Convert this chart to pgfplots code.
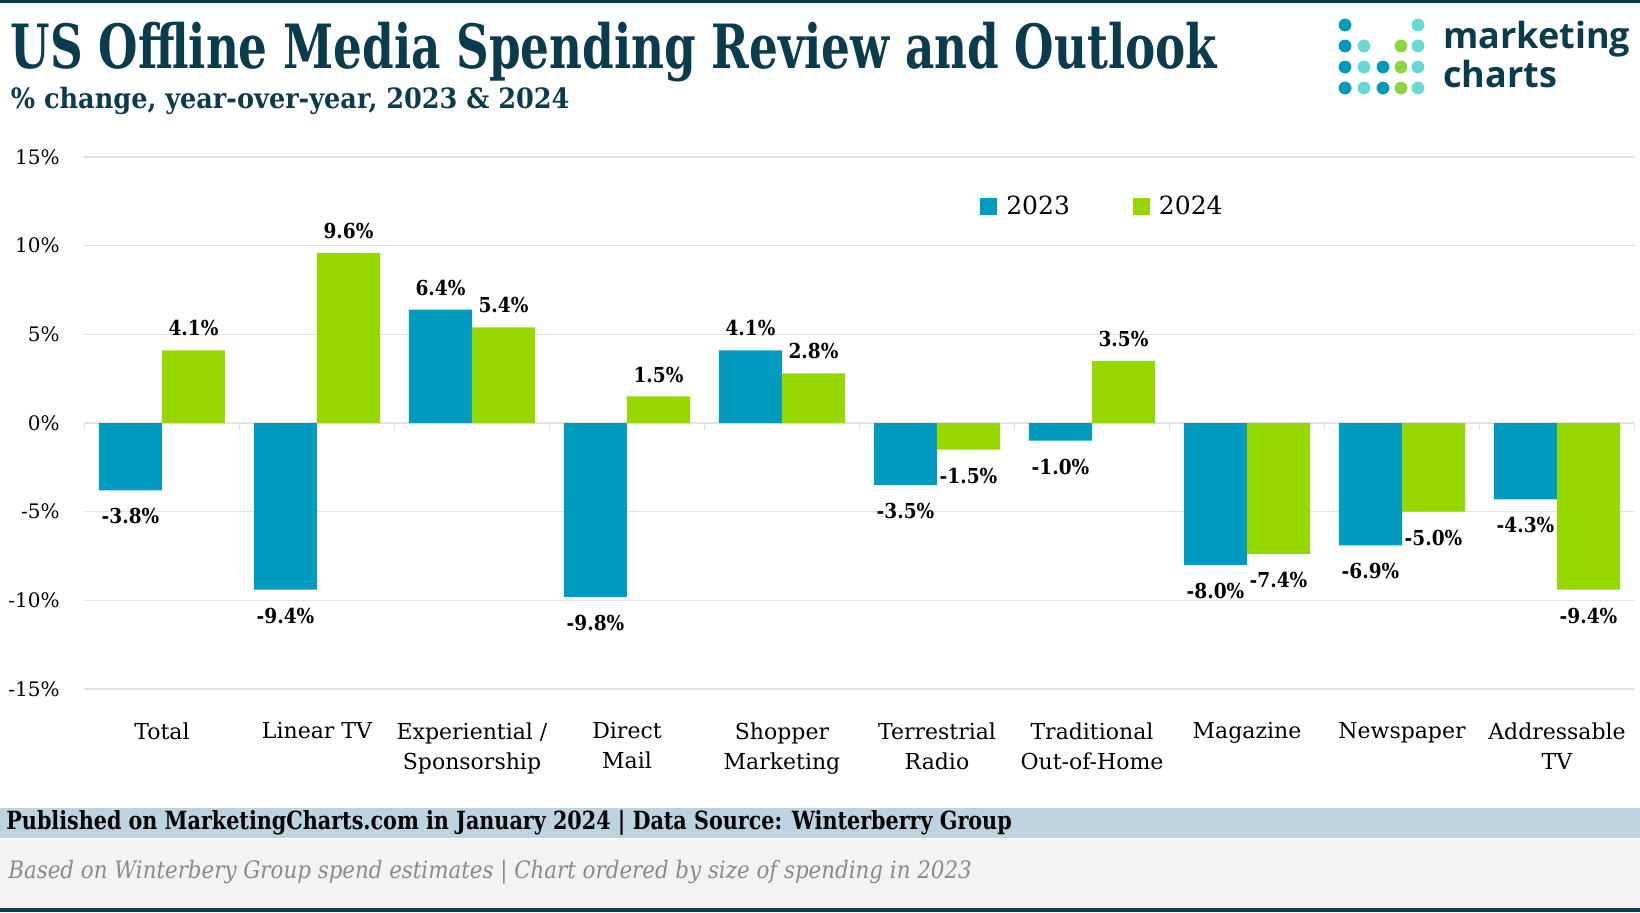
\documentclass[border=0pt]{standalone}
\usepackage{fontspec}
\setmainfont{DejaVu Serif}
\newfontfamily\condfont{DejaVu Serif Condensed}
\newfontfamily\logofont{Open Sans}
\usepackage{graphicx}
\usepackage{pgfplots}
\pgfplotsset{compat=1.18}

\definecolor{dark}{HTML}{0B3C4D}
\definecolor{c23}{HTML}{009BBF}
\definecolor{c24}{HTML}{97D700}
\definecolor{gridc}{HTML}{E2E2E2}
\definecolor{fblue}{HTML}{BDD3DF}
\definecolor{fgray}{HTML}{F3F3F3}
\definecolor{lteal}{HTML}{66D9D3}
\definecolor{lgreen}{HTML}{8DD43F}
\definecolor{lblue}{HTML}{0099BB}
\definecolor{notegray}{HTML}{8A8A8A}

\pgfplotsset{sqleg/.style={legend image code/.code={\fill[##1] (0pt,-4.25pt) rectangle (8.5pt,4.25pt);}}}

\begin{document}
\begin{tikzpicture}[x=1pt,y=1pt]
\fill[white] (0,0) rectangle (820,-456);
\fill[dark] (0,0) rectangle (820,-1.5);
\fill[fblue] (0,-403.75) rectangle (820,-419);
\fill[fgray] (0,-419.5) rectangle (820,-454);
\fill[dark] (0,-454) rectangle (820,-456);

\node[anchor=base west, inner sep=0, text=dark, font=\condfont\bfseries\fontsize{30.5}{30.5}\selectfont] at (5.25,-34) {\scalebox{0.825}[1]{US Offline Media Spending Review and Outlook}};
\node[anchor=base west, inner sep=0, text=dark, font=\condfont\bfseries\fontsize{14}{14}\selectfont] at (5.25,-54) {\scalebox{1.015}[1]{\% change, year-over-year, 2023 \& 2024}};

% logo
\foreach \x/\y/\c in {672.5/-12.5/lblue, 709/-12.5/lteal,
  672.5/-23/lblue, 682/-23/lteal, 700.5/-23/lgreen, 709/-23/lteal,
  672.5/-33.5/lblue, 682/-33.5/lteal, 691.5/-33.5/lblue, 700.5/-33.5/lgreen, 709/-33.5/lteal,
  672.5/-44/lblue, 682/-44/lteal, 691.5/-44/lblue, 700.5/-44/lgreen, 709/-44/lteal}
  {\fill[\c] (\x,\y) circle (3.2);}
\node[anchor=base west, inner sep=0, text=dark, font=\logofont\bfseries\fontsize{18}{18}\selectfont] at (721.5,-24) {marketing};
\node[anchor=base west, inner sep=0, text=dark, font=\logofont\bfseries\fontsize{18}{18}\selectfont] at (721.5,-43.5) {charts};

\node[anchor=west, inner sep=0, font=\condfont\bfseries\fontsize{12.5}{12.5}\selectfont] at (3,-411.5) {\scalebox{0.92}[1]{Published on MarketingCharts.com in January 2024 | Data Source: Winterberry Group}};
\node[anchor=west, inner sep=0, text=notegray, font=\condfont\itshape\fontsize{12}{12}\selectfont] at (4,-436) {\scalebox{0.99}[1]{Based on Winterbery Group spend estimates | Chart ordered by size of spending in 2023}};

\begin{axis}[
  at={(42.25pt,-344.5pt)}, anchor=south west,
  scale only axis, width=775pt, height=266pt,
  xmin=-0.5, xmax=9.5, ymin=-15, ymax=15,
  axis line style={draw=none},
  major tick length=0pt,
  ymajorgrids, grid style={gridc, line width=0.6pt},
  ytick={-15,-10,-5,0,5,10,15},
  yticklabels={-15\%,-10\%,-5\%,0\%,5\%,10\%,15\%},
  yticklabel style={anchor=east, inner sep=0pt, xshift=-12.25pt, font=\fontsize{10}{10}\selectfont},
  xtick={0,...,9},
  xticklabels={Total, Linear TV, Experiential /\\Sponsorship, Direct\\Mail, Shopper\\Marketing, Terrestrial\\Radio, Traditional\\Out-of-Home, Magazine, Newspaper, Addressable\\TV},
  xticklabel style={anchor=north, align=center, inner sep=0pt, yshift=-16.5pt, font=\fontsize{11}{15}\selectfont},
  ybar=0pt, bar width=31.5pt,
  nodes near coords={\pgfmathprintnumber{\pgfplotspointmeta}\%},
  nodes near coords style={font=\condfont\bfseries\fontsize{10.3}{10.3}\selectfont, inner xsep=0pt, inner ysep=6pt, text height=10.5pt, text depth=1pt,
     /pgf/number format/.cd, fixed, fixed zerofill, precision=1, assume math mode=true},
  legend columns=2,
  legend style={draw=none, fill=none, inner sep=0pt, at={(0.5777,0.9067)}, anchor=west,
    font=\fontsize{12.5}{12.5}\selectfont,
    nodes={inner xsep=4.5pt},
    /tikz/every even column/.append style={column sep=27pt}},
  clip=false,
]
\addplot[fill=c23, draw=none, sqleg] coordinates {(0,-3.8) (1,-9.4) (2,6.4) (3,-9.8) (4,4.1) (5,-3.5) (6,-1.0) (7,-8.0) (8,-6.9) (9,-4.3)};
\addplot[fill=c24, draw=none, sqleg] coordinates {(0,4.1) (1,9.6) (2,5.4) (3,1.5) (4,2.8) (5,-1.5) (6,3.5) (7,-7.4) (8,-5.0) (9,-9.4)};
\legend{2023,2024}
\pgfplotsinvokeforeach{-0.5,0.5,1.5,2.5,3.5,4.5,5.5,6.5,7.5,8.5,9.5}{
  \draw[gridc, line width=0.6pt] (axis cs:#1,0) -- ([yshift=-3.5pt]axis cs:#1,0);
}
\end{axis}
\end{tikzpicture}
\end{document}
